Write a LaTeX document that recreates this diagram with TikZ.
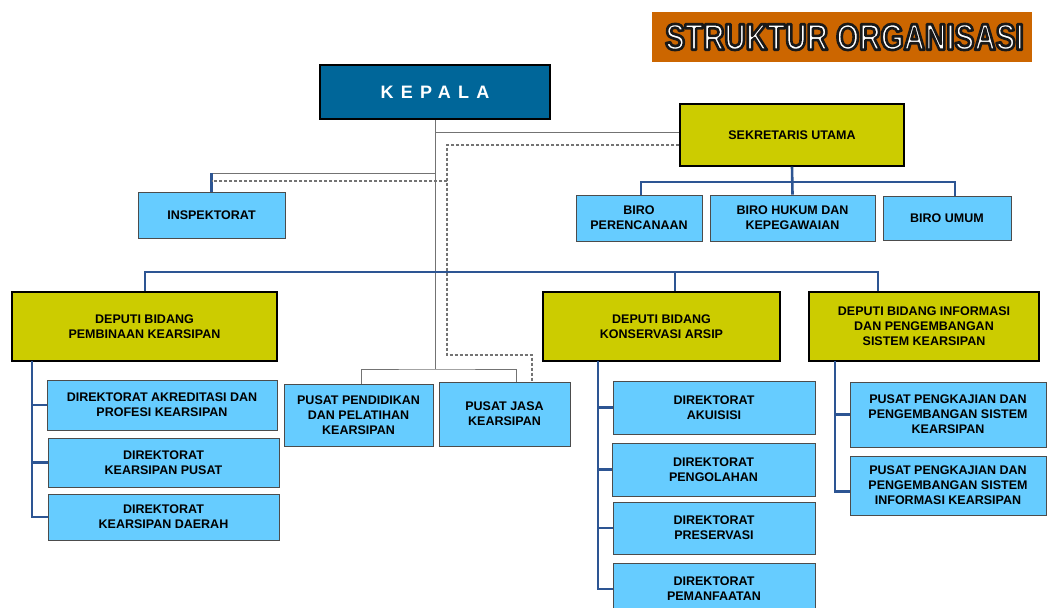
\documentclass[tikz,border=0pt]{standalone}
\usepackage{fontspec}
\setmainfont{Liberation Sans}
\newfontfamily\titlefont[FakeStretch=0.8]{Liberation Sans}
\newfontfamily\kepalafont[LetterSpace=40]{Liberation Sans}
\newcommand{\outlinedtext}[1]{\special{pdf:literal q 2 Tr 2.6 w 1 j 0.1 0.1 0.1 RG}#1\special{pdf:literal Q}}
\definecolor{unitblue}{HTML}{66CCFF}
\definecolor{deputiyellow}{HTML}{CCCC00}
\definecolor{kepalablue}{HTML}{006699}
\definecolor{titleorange}{HTML}{CC6600}
\definecolor{linkblue}{HTML}{2D5593}
\tikzset{
  unit/.style={draw=black!70, line width=0.9pt, fill=unitblue, align=center,
    inner sep=2pt, font=\fontsize{12.5}{15}\selectfont\bfseries},
  deputi/.style={unit, draw=black, line width=1.3pt, fill=deputiyellow},
  link/.style={draw=linkblue, line width=2.6pt},
  staff/.style={draw=black!55, line width=1pt},
  liaison/.style={draw=black!55, line width=1.1pt, dash pattern=on 3pt off 2pt},
}

\begin{document}
\begin{tikzpicture}[x=1pt, y=-1pt]
\fill[white] (0,0) rectangle (1048,607);
\useasboundingbox (0,0) rectangle (1048,607);

% title
\node[fill=titleorange, minimum width=380, minimum height=50, text=white,
  font=\titlefont\bfseries\fontsize{37}{38}\selectfont] (title) at (842,37) {\hspace{5pt}\outlinedtext{STRUKTUR ORGANISASI}};

% top level
\node[draw=black, line width=2.5pt, fill=kepalablue, text=white, minimum width=230, minimum height=54,
  font=\kepalafont\bfseries\fontsize{18}{20}\selectfont] (kepala) at (435,92) {KEPALA};
\node[deputi, minimum width=224, minimum height=62] (sekum) at (792,135) {SEKRETARIS UTAMA};
\node[unit, minimum width=147, minimum height=46] (inspektorat) at (211.5,215) {INSPEKTORAT};

% biro
\node[unit, minimum width=126, minimum height=46] (biro1) at (639,218) {BIRO\\PERENCANAAN};
\node[unit, minimum width=165, minimum height=46] (biro2) at (792.5,218) {BIRO HUKUM DAN\\KEPEGAWAIAN};
\node[unit, minimum width=128, minimum height=44] (biro3) at (947,218) {BIRO UMUM};

% deputi
\node[deputi, minimum width=265, minimum height=69] (dep1) at (144.5,326.5) {DEPUTI BIDANG\\PEMBINAAN KEARSIPAN};
\node[deputi, minimum width=237, minimum height=69] (dep2) at (661.5,326.5) {DEPUTI BIDANG\\KONSERVASI ARSIP};
\node[deputi, minimum width=230, minimum height=69] (dep3) at (924,326.5) {DEPUTI BIDANG INFORMASI\\DAN PENGEMBANGAN\\SISTEM KEARSIPAN};

% units under deputi 1
\node[unit, minimum width=230, minimum height=50] (dir1a) at (162,405) {DIREKTORAT AKREDITASI DAN\\PROFESI KEARSIPAN};
\node[unit, minimum width=231, minimum height=49] (dir1b) at (163.5,462.5) {DIREKTORAT\\KEARSIPAN PUSAT};
\node[unit, minimum width=231, minimum height=46] (dir1c) at (163.5,517) {DIREKTORAT\\KEARSIPAN DAERAH};

% pusat under kepala
\node[unit, minimum width=149, minimum height=62] (pusdik) at (358.5,415) {PUSAT PENDIDIKAN\\DAN PELATIHAN\\KEARSIPAN};
\node[unit, minimum width=131, minimum height=64] (pusjasa) at (504.5,414) {PUSAT JASA\\KEARSIPAN};

% units under deputi 2
\node[unit, minimum width=202, minimum height=53] (dir2a) at (714,407.5) {DIREKTORAT\\AKUISISI};
\node[unit, minimum width=203, minimum height=53] (dir2b) at (713.5,469.5) {DIREKTORAT\\PENGOLAHAN};
\node[unit, minimum width=202, minimum height=52] (dir2c) at (714,528) {DIREKTORAT\\PRESERVASI};
\node[unit, minimum width=202, minimum height=52] (dir2d) at (714,589) {DIREKTORAT\\PEMANFAATAN};

% units under deputi 3
\node[unit, minimum width=196, minimum height=65] (pus3a) at (948,414.5) {PUSAT PENGKAJIAN DAN\\PENGEMBANGAN SISTEM\\KEARSIPAN};
\node[unit, minimum width=196, minimum height=59] (pus3b) at (948,485.5) {PUSAT PENGKAJIAN DAN\\PENGEMBANGAN SISTEM\\INFORMASI KEARSIPAN};

% gray lines from kepala
\coordinate (hubPusat) at (435,369);
\coordinate (kSekum) at (435,132);
\coordinate (kInsp) at (435,173);
\draw[staff] (kepala.south) -- (hubPusat);
\draw[staff] (kSekum) -- (kSekum -| sekum.west);
\draw[staff] (kInsp) -- (kInsp -| inspektorat.north);
\draw[link] (kInsp -| inspektorat.north) -- (inspektorat.north);
\draw[staff] ([xshift=2.5pt]pusdik.north) |- (hubPusat) -| ([xshift=11.5pt]pusjasa.north);

% dotted lines from sekretaris utama
\coordinate (dotBend) at (447,355);
\coordinate (dotInsp) at (447,181);
\draw[liaison] ([yshift=-10pt]sekum.west) -| (dotBend) -| ([xshift=27.5pt]pusjasa.north);
\draw[liaison] (dotInsp) -- (dotInsp -| inspektorat.north);

% sekretaris utama to biro
\coordinate (biroBus) at (792,182);
\draw[link] (sekum.south) -- (biro2.north);
\draw[link] ([xshift=2pt]biro1.north) |- (biroBus) -| ([xshift=8pt]biro3.north);

% deputi bus
\coordinate (busL) at (145,272);
\coordinate (busR) at (878,272);
\coordinate (dropB) at (675,272);
\draw[link] (busL |- dep1.north) -- (busL) -- (busR) -- (busR |- dep3.north);
\draw[link] (dropB) -- (dropB |- dep2.north);

% deputi 1 spine
\coordinate (spineA) at (32,361);
\draw[link] (spineA) |- (dir1c.west);
\foreach \d in {dir1a,dir1b}
  \draw[link] (spineA |- \d.west) -- (\d.west);

% deputi 2 spine
\coordinate (spineB) at (598,361);
\draw[link] (spineB) |- (dir2d.west);
\foreach \d in {dir2a,dir2b,dir2c}
  \draw[link] (spineB |- \d.west) -- (\d.west);

% deputi 3 spine
\coordinate (spineC) at (835,361);
\draw[link] (spineC) |- ([yshift=-6pt]pus3b.west);
\draw[link] (spineC |- pus3a.west) -- (pus3a.west);
\end{tikzpicture}
\end{document}
